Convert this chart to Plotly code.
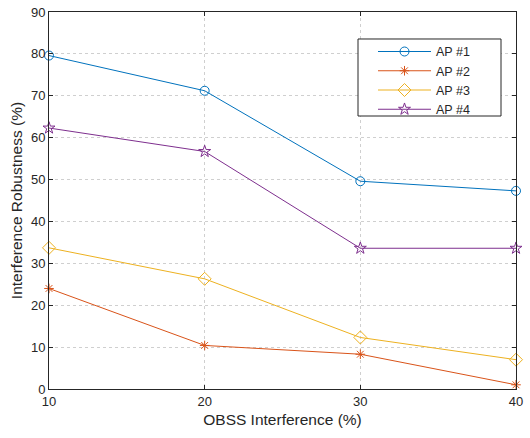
import plotly.graph_objects as go

x_vals = [10, 20, 30, 40]
ap1 = [79.6, 71.2, 49.6, 47.3]
ap2 = [24.0, 10.4, 8.3, 1.0]
ap3 = [33.7, 26.3, 12.3, 7.0]
ap4 = [62.3, 56.7, 33.6, 33.6]
names = ["AP #1", "AP #2", "AP #3", "AP #4"]
colors = ["#0072BD", "#D95319", "#EDB120", "#7E2F8E"]
symbols = ["circle-open", "asterisk-open", "diamond-open", "star-open"]
sizes = [9, 8, 10, 9]

fig = go.Figure()
for ys, n, c, s, sz in zip([ap1, ap2, ap3, ap4], names, colors, symbols, sizes):
    fig.add_trace(go.Scatter(
        x=x_vals, y=ys, name=n, mode="lines+markers",
        line=dict(color=c, width=1),
        marker=dict(symbol=s, size=sz, color=c, line=dict(color=c, width=1)),
        cliponaxis=False,
    ))

axis_common = dict(
    showline=True, linecolor="#262626", linewidth=1, mirror="ticks",
    ticks="inside", ticklen=4, tickcolor="#262626",
    showgrid=True, gridcolor="#cfcfcf", griddash="dot", gridwidth=1,
    zeroline=False, automargin=False,
    tickfont=dict(family="Liberation Sans, Arial", size=13, color="#262626"),
)

# legend box drawn as a frame in paper coordinates
fig.add_shape(type="rect", xref="paper", yref="paper",
              x0=0.6617, x1=0.9679, y0=0.7241, y1=0.9284,
              fillcolor="white", line=dict(color="#262626", width=1),
              layer="above")

fig.update_layout(
    width=530, height=438,
    margin=dict(l=49, r=14, t=12, b=49),
    paper_bgcolor="white", plot_bgcolor="white",
    font=dict(family="Liberation Sans, Arial", size=13, color="#262626"),
    xaxis=dict(range=[10, 40], tickvals=[10, 20, 30, 40],
               title=dict(text="OBSS Interference (%)", font=dict(size=15.5), standoff=6),
               **axis_common),
    yaxis=dict(range=[0, 90], tickvals=list(range(0, 91, 10)),
               title=dict(text="Interference Robustness (%)", font=dict(size=15.5), standoff=4),
               **axis_common),
    legend=dict(x=0.6938, y=0.934, xanchor="left", yanchor="top",
                bgcolor="rgba(0,0,0,0)", borderwidth=0,
                font=dict(size=12.5, color="#262626"),
                itemwidth=53, tracegroupgap=0),
    showlegend=True,
)

fig.write_html(
    "out.html",
    config={"displayModeBar": False},
    post_script="document.body.style.margin='0';document.body.style.overflow='hidden';",
)
